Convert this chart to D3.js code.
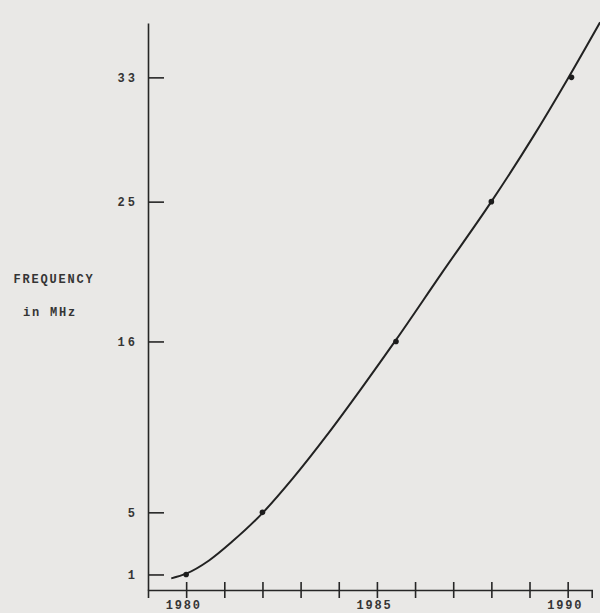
<!DOCTYPE html>
<html>
<head>
<meta charset="utf-8">
<script src="https://cdn.jsdelivr.net/npm/d3@7"></script>
<style>
  body { margin: 0; background: #e9e8e6; }
  svg { display: block; }
  text { font-family: "Liberation Mono", "DejaVu Sans Mono", monospace; font-size: 12px; font-weight: bold; fill: #353535; letter-spacing: 1.8px; }
</style>
</head>
<body>
<script>
// measured points (year, MHz)
const pointYears = [1980, 1982, 1985.5, 1988, 1990.1];
const pointFreqs = [1, 5, 16, 25, 33];

// fitted curve
const curveYears = [1979.61, 1980, 1980.6, 1981.2, 1982, 1982.8, 1983.7, 1984.6, 1985.5, 1986.7, 1988, 1989.1, 1990, 1990.85];
const curveFreqs = [0.75, 1.05, 1.9, 3.1, 4.95, 7.2, 10.0, 13.0, 16.1, 20.4, 25.0, 29.2, 32.9, 36.55];

const yTicks = [1, 5, 16, 25, 33];
const xTicks = [1980, 1981, 1982, 1983, 1984, 1985, 1986, 1987, 1988, 1989, 1990];
const xLabels = [1980, 1985, 1990];

const w = 600, h = 613;

const svg = d3.select("body").
append("svg").
attr("width", w).
attr("height", h);

const x = d3.scaleLinear().
domain([1979, 1990.63]).
range([148, 591.7]);

const y = d3.scaleLinear().
domain([0, 36.5]).
range([590, 23]);

// x axis, ticks cross the line
const xAxis = d3.axisBottom(x).
tickValues(xTicks).
tickSizeOuter(0).
tickSize(8).
tickPadding(2).
tickFormat(d => xLabels.indexOf(d) >= 0 ? d : "");

const gx = svg.append("g").
attr("transform", "translate(0," + y(0) + ")").
call(xAxis);

gx.selectAll(".tick line").attr("y1", -8);
gx.selectAll(".tick text").attr("dx", -3);

// y axis, ticks point inward
const yAxis = d3.axisLeft(y).
tickValues(yTicks).
tickSizeOuter(0).
tickSizeInner(-16).
tickPadding(10);

const gy = svg.append("g").
attr("transform", "translate(" + x(1979) + ",0)").
call(yAxis);

svg.selectAll(".domain, .tick line").
attr("stroke", "#262626").
attr("stroke-width", 1.6);

svg.selectAll(".tick text").
style("font-family", "'Liberation Mono', monospace").
style("font-size", "12px").
attr("fill", "#353535");

gy.selectAll(".tick text").style("letter-spacing", "3px");

// axis title
svg.append("text").
attr("x", 54).
attr("y", 283).
attr("text-anchor", "middle").
text("FREQUENCY");

svg.append("text").
attr("x", 50).
attr("y", 316).
attr("text-anchor", "middle").
text("in MHz");

// curve
const curveData = curveYears.map((yr, i) => ({ year: yr, f: curveFreqs[i] }));

const line = d3.line().
x(d => x(d.year)).
y(d => y(d.f)).
curve(d3.curveMonotoneX);

svg.append("path").
datum(curveData).
attr("d", line).
attr("fill", "none").
attr("stroke", "#222").
attr("stroke-width", 2);

// data points
svg.selectAll("circle").
data(pointYears.map((yr, i) => ({ year: yr, f: pointFreqs[i] }))).
enter().
append("circle").
attr("cx", d => x(d.year)).
attr("cy", d => y(d.f)).
attr("r", 2.8).
attr("fill", "#1c1c1c");
</script>
</body>
</html>
